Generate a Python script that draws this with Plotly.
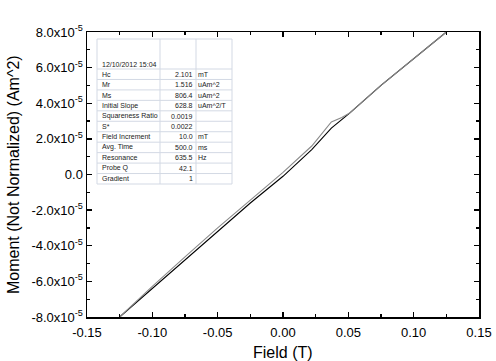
import plotly.graph_objects as go

# ---- data ----
field_up = [-0.125, -0.1, -0.075, -0.05, -0.025, 0.0, 0.022, 0.037, 0.051, 0.075, 0.1, 0.125]
moment_up_e5 = [-8.0, -6.4, -4.8, -3.2, -1.6, -0.1, 1.4, 2.6, 3.45, 5.0, 6.5, 8.0]
field_down = [0.125, 0.1, 0.075, 0.051, 0.045, 0.037, 0.022, 0.0, -0.025, -0.05, -0.075, -0.1, -0.125]
moment_down_e5 = [8.0, 6.5, 5.0, 3.45, 3.2, 2.95, 1.6, 0.12, -1.42, -3.0, -4.62, -6.28, -8.0]

x_ticks = [-0.15, -0.10, -0.05, 0.0, 0.05, 0.10, 0.15]
x_ticktext = ["-0.15", "-0.10", "-0.05", "0.00", "0.05", "0.10", "0.15"]
y_ticks_e5 = [8, 6, 4, 2, 0, -2, -4, -6, -8]

table_date = "12/10/2012 15:04"
table_labels = ["Hc", "Mr", "Ms", "Initial Slope", "Squareness Ratio", "S*",
                "Field Increment", "Avg. Time", "Resonance", "Probe Q", "Gradient"]
table_values = ["2.101", "1.516", "806.4", "628.8", "0.0019", "0.0022",
                "10.0", "500.0", "635.5", "42.1", "1"]
table_units = ["mT", "uAm^2", "uAm^2", "uAm^2/T", "", "", "mT", "ms", "Hz", "", ""]

x_title = "Field (T)"
y_title = "Moment (Not Normalized) (Am^2)"

scale = 1e-5
y_tickvals = [v * scale for v in y_ticks_e5]
y_ticktext = ["0.0" if v == 0 else f"{v:.1f}x10<sup>-5</sup>" for v in y_ticks_e5]

fig = go.Figure()
fig.add_trace(go.Scatter(x=field_up, y=[m * scale for m in moment_up_e5], mode="lines",
                         line=dict(color="#000000", width=1.1), showlegend=False, hoverinfo="skip"))
fig.add_trace(go.Scatter(x=field_down, y=[m * scale for m in moment_down_e5], mode="lines",
                         line=dict(color="#8a8a8a", width=1.1), showlegend=False, hoverinfo="skip"))

W, H = 496, 361
L, R, T, B = 87, 479, 32, 317

def px(xp):
    return (xp - L) / (R - L)

def py(yp):
    return (B - yp) / (B - T)

font_fam = "Liberation Sans, Arial, sans-serif"

# ---- table inset ----
tx0, tx1, ty0, ty1 = 97, 232, 39, 184
c1, c2 = 160, 196
date_bottom = 69
row_h = (ty1 - date_bottom) / len(table_labels)
grid_col = "#d3d9e4"
shapes = []
shapes.append(dict(type="rect", xref="paper", yref="paper", x0=px(tx0), x1=px(tx1), y0=py(ty1), y1=py(ty0),
                   fillcolor="white", line=dict(color=grid_col, width=1), layer="above"))
for cx in (c1, c2):
    shapes.append(dict(type="line", xref="paper", yref="paper", x0=px(cx), x1=px(cx), y0=py(ty1), y1=py(ty0),
                       line=dict(color=grid_col, width=1), layer="above"))
for i in range(len(table_labels)):
    yl = date_bottom + i * row_h
    shapes.append(dict(type="line", xref="paper", yref="paper", x0=px(tx0), x1=px(tx1), y0=py(yl), y1=py(yl),
                       line=dict(color=grid_col, width=1), layer="above"))

annotations = []
tfont = dict(family="Liberation Sans, Arial, sans-serif", size=7, color="#222222")
annotations.append(dict(xref="paper", yref="paper", x=px(100), y=py(64), text=table_date, showarrow=False,
                        xanchor="left", yanchor="middle", font=tfont))
for i, (lab, val, unit) in enumerate(zip(table_labels, table_values, table_units)):
    yc = date_bottom + (i + 0.5) * row_h
    annotations.append(dict(xref="paper", yref="paper", x=px(100), y=py(yc), text=lab, showarrow=False,
                            xanchor="left", yanchor="middle", font=tfont))
    annotations.append(dict(xref="paper", yref="paper", x=px(195), y=py(yc), text=val, showarrow=False,
                            xanchor="right", yanchor="middle", font=tfont))
    if unit:
        annotations.append(dict(xref="paper", yref="paper", x=px(196), y=py(yc), text=unit, showarrow=False,
                                xanchor="left", yanchor="middle", font=tfont))

# axis titles
annotations.append(dict(xref="paper", yref="paper", x=px(283), y=py(352), text=x_title, showarrow=False,
                        xanchor="center", yanchor="middle", font=dict(family=font_fam, size=16, color="black")))
annotations.append(dict(xref="paper", yref="paper", x=px(13), y=py(175), text=y_title, showarrow=False,
                        textangle=-90, xanchor="center", yanchor="middle",
                        font=dict(family=font_fam, size=16, color="black")))

axis_common = dict(showline=True, linecolor="black", linewidth=1.5, mirror="allticks",
                   ticks="inside", ticklen=5, tickwidth=1.3, tickcolor="black",
                   showgrid=False, zeroline=False, automargin=False,
                   tickfont=dict(family=font_fam, size=13, color="black"))

fig.update_layout(
    width=W, height=H,
    margin=dict(l=L, r=W - R, t=T, b=H - B),
    paper_bgcolor="white", plot_bgcolor="white",
    font=dict(family=font_fam, color="black"),
    xaxis=dict(range=[-0.15, 0.15], tickmode="array", tickvals=x_ticks, ticktext=x_ticktext,
               ticklabelstandoff=3,
               minor=dict(ticks="inside", ticklen=3, tickwidth=1.2, tickcolor="black",
                          tickmode="linear", tick0=0, dtick=0.025),
               **axis_common),
    yaxis=dict(range=[-8e-5, 8e-5], tickmode="array", tickvals=y_tickvals, ticktext=y_ticktext,
               minor=dict(ticks="inside", ticklen=3, tickwidth=1.2, tickcolor="black",
                          tickmode="linear", tick0=0, dtick=1e-5),
               **axis_common),
    shapes=shapes,
    annotations=annotations,
    hovermode=False,
)

fig.write_html("out.html", config={"displayModeBar": False, "staticPlot": True},
               post_script="document.body.style.margin='0';document.body.style.overflow='hidden';")
